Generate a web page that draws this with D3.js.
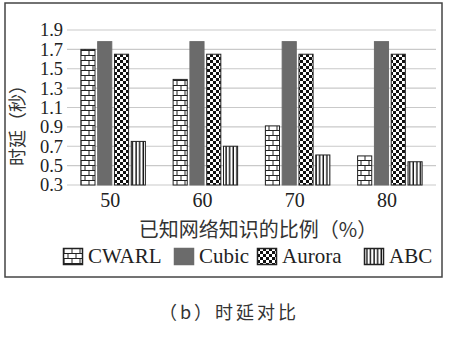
<!DOCTYPE html>
<html><head><meta charset="utf-8">
<script src="https://cdn.jsdelivr.net/npm/d3@7"></script>
<style>body{margin:0;background:#fff}svg{display:block}</style>
</head><body><svg id="c" width="450" height="337"></svg>
<script>
const categories = ["50","60","70","80"];
const seriesNames = ["CWARL","Cubic","Aurora","ABC"];
const CWARL = [1.70, 1.39, 0.91, 0.60];
const Cubic = [1.78, 1.78, 1.78, 1.78];
const Aurora = [1.65, 1.65, 1.65, 1.65];
const ABC = [0.75, 0.70, 0.61, 0.54];
const yTicks = [0.3,0.5,0.7,0.9,1.1,1.3,1.5,1.7,1.9];
const seriesValues = {CWARL, Cubic, Aurora, ABC};

const svg = d3.select("#c");
const defs = svg.append("defs");
const pb = defs.append("pattern").attr("id","p-CWARL").attr("patternUnits","userSpaceOnUse").attr("width",8).attr("height",10);
pb.append("rect").attr("width",8).attr("height",10).attr("fill","#fff");
pb.append("path").attr("d","M0,0.5H8M0,5.5H8M1,0.5V5.5M5,5.5V10.5").attr("stroke","#222").attr("stroke-width",1).attr("fill","none");
const pc = defs.append("pattern").attr("id","p-Aurora").attr("patternUnits","userSpaceOnUse").attr("width",6).attr("height",6);
pc.append("rect").attr("width",6).attr("height",6).attr("fill","#fff");
pc.append("rect").attr("x",0).attr("y",0).attr("width",3).attr("height",3).attr("fill","#111");
pc.append("rect").attr("x",3).attr("y",3).attr("width",3).attr("height",3).attr("fill","#111");
const ps = defs.append("pattern").attr("id","p-ABC").attr("patternUnits","userSpaceOnUse").attr("width",3.6).attr("height",4);
ps.append("rect").attr("width",3.6).attr("height",4).attr("fill","#fff");
ps.append("rect").attr("x",2.2).attr("width",1.4).attr("height",4).attr("fill","#111");
const fills = {CWARL:"url(#p-CWARL)", Cubic:"#6b6b6b", Aurora:"url(#p-Aurora)", ABC:"url(#p-ABC)"};
const strokes = {CWARL:"#222", Cubic:"#6b6b6b", Aurora:"#222", ABC:"#222"};

svg.append("rect").attr("x",5).attr("y",3).attr("width",437).attr("height",274)
  .attr("fill","none").attr("stroke","#444").attr("stroke-width",1.5);

const x0 = d3.scaleBand().domain(categories).range([67,436]).paddingInner(0.29).paddingOuter(0.145);
const x1 = d3.scaleBand().domain(seriesNames).range([0,x0.bandwidth()]).paddingInner(0.1);
const y = d3.scaleLinear().domain([0.3,1.9]).range([185,30]);

svg.append("g").selectAll("line").data(yTicks).join("line")
  .attr("x1",67).attr("x2",436).attr("y1",d=>y(d)).attr("y2",d=>y(d))
  .attr("stroke","#c9c9c9").attr("stroke-width",1.2);

const yAxis = d3.axisLeft(y).tickValues(yTicks).tickFormat(d3.format(".1f")).tickSize(0).tickPadding(4);
const ya = svg.append("g").attr("transform","translate(67,0)").call(yAxis);
ya.select(".domain").remove();
ya.selectAll("text").attr("font-family","'Liberation Serif',serif").attr("font-size",18.5).attr("fill","#222");

const g = svg.append("g");
categories.forEach((c,i)=>{
  seriesNames.forEach(s=>{
    const v = seriesValues[s][i];
    g.append("rect").attr("x",x0(c)+x1(s)+0.5).attr("y",y(v))
      .attr("width",x1.bandwidth()-1).attr("height",y(0.3)-y(v))
      .attr("fill",fills[s]).attr("stroke",strokes[s]).attr("stroke-width",1);
  });
});

const xAxis = d3.axisBottom(x0).tickSize(0).tickPadding(8);
const xa = svg.append("g").attr("transform","translate(-3,"+185+")").call(xAxis);
xa.select(".domain").remove();
xa.selectAll("text").attr("font-family","'Liberation Serif',serif").attr("font-size",20).attr("fill","#222");

svg.append("text").attr("transform","translate(24,121) rotate(-90)").attr("text-anchor","middle")
  .attr("font-family","'Noto Sans CJK SC',sans-serif").attr("font-size",18).attr("fill","#333").text("时延（秒）");
svg.append("text").attr("x",258).attr("y",237).attr("text-anchor","middle")
  .attr("font-family","'Noto Sans CJK SC',sans-serif").attr("font-size",20).attr("fill","#333").text("已知网络知识的比例（%）");

const legendX = [63,174,257,364];
const lg = svg.append("g");
seriesNames.forEach((s,i)=>{
  const gx = lg.append("g").attr("transform","translate("+legendX[i]+",248)");
  gx.append("rect").attr("x",0.5).attr("y",0.5).attr("width",19).attr("height",16)
    .attr("fill",fills[s]).attr("stroke",strokes[s]).attr("stroke-width",1.5);
  gx.append("text").attr("x",25).attr("y",15).attr("font-family","'Liberation Serif',serif")
    .attr("font-size",21).attr("fill","#222").text(s);
});

svg.append("text").attr("x",229).attr("y",319).attr("text-anchor","middle")
  .attr("font-family","'Noto Sans CJK SC',sans-serif").attr("font-size",18).attr("fill","#333")
  .attr("letter-spacing",3).text("（b）时延对比");
</script></body></html>
